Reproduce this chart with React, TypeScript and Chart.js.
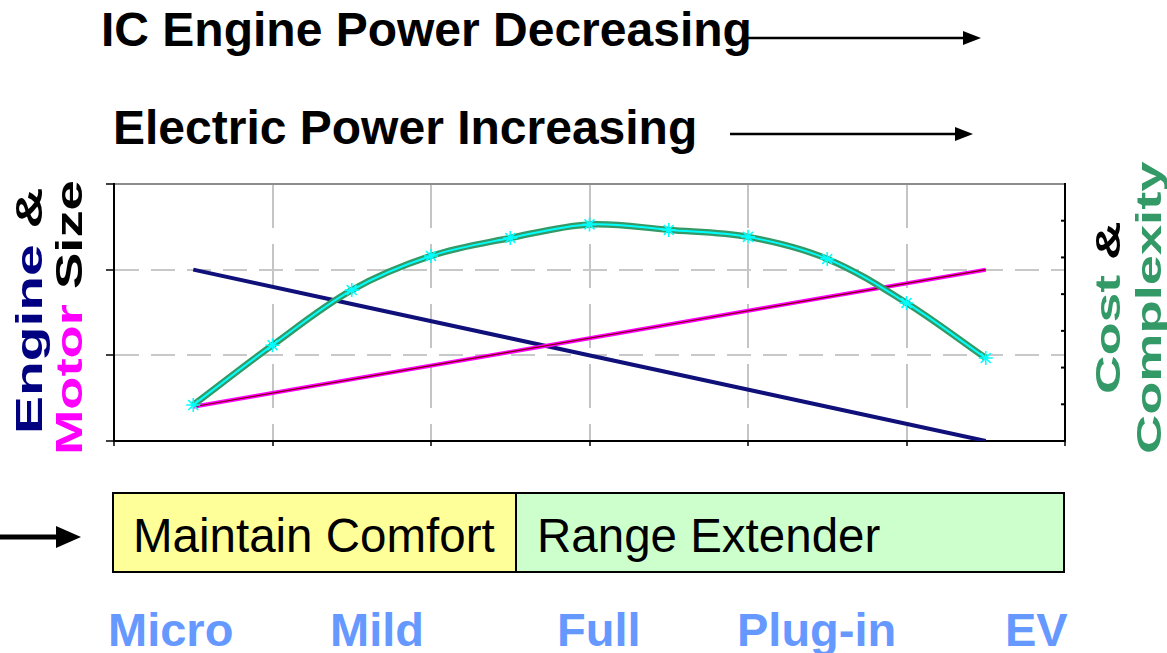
import React, { useEffect, useRef } from "react";
import { Chart, registerables } from "chart.js";

Chart.register(...registerables);

// ---- data ----
const engineX = [0.5, 1.5, 2.5, 3.5, 4.5, 5.5];
const engineSize = [2.0, 1.6, 1.2, 0.8, 0.4, 0.0];
const motorX = [0.5, 1.5, 2.5, 3.5, 4.5, 5.5];
const motorSize = [0.4, 0.72, 1.04, 1.36, 1.68, 2.0];
const costX = [0.5, 1, 1.5, 2, 2.5, 3, 3.5, 4, 4.5, 5, 5.5];
const costComplexity = [0.98, 2.61, 4.11, 5.04, 5.53, 5.9, 5.75, 5.56, 4.96, 3.76, 2.26];
const hybridTypes = ["Micro", "Mild", "Full", "Plug-in", "EV"];
const strategies = ["Maintain Comfort", "Range Extender"];
const headlines = ["IC Engine Power Decreasing", "Electric Power Increasing"];

// ---- layout / style ----
const FONT = '"Liberation Sans", Arial, Helvetica, sans-serif';
const typeLeft = [108, 330, 557, 737, 1005];

const pts = (xs: number[], ys: number[]) => xs.map((x, i) => ({ x, y: ys[i] }));

function RotLabel(props: { left: number; top: number; size: number; k: number; parts: { text: string; color: string }[] }) {
  const { left, top, size, k, parts } = props;
  return (
    <div
      style={{
        position: "absolute",
        left,
        top,
        fontFamily: FONT,
        fontWeight: 700,
        fontSize: size,
        lineHeight: 1,
        whiteSpace: "pre",
        transformOrigin: "0 0",
        transform: `rotate(-90deg) scaleX(${k})`,
      }}
    >
      {parts.map((p, i) => (
        <span key={i} style={{ color: p.color }}>
          {p.text}
        </span>
      ))}
    </div>
  );
}

export default function App() {
  const ref = useRef<HTMLCanvasElement | null>(null);

  useEffect(() => {
    if (!ref.current) return;
    const costPts = pts(costX, costComplexity);
    const motorPts = pts(motorX, motorSize);
    const enginePts = pts(engineX, engineSize);

    const rightTicks = {
      id: "rightTicks",
      afterDraw(chart: any) {
        const s = chart.scales.y2;
        const ctx = chart.ctx;
        const r = chart.chartArea.right;
        ctx.save();
        ctx.strokeStyle = "#000";
        ctx.lineWidth = 2;
        s.ticks.forEach((t: any) => {
          if (t.value <= 0 || t.value >= 7) return;
          const y = s.getPixelForValue(t.value);
          ctx.beginPath();
          ctx.moveTo(r - 4, y);
          ctx.lineTo(r, y);
          ctx.stroke();
        });
        ctx.restore();
      },
    };

    const chart = new Chart(ref.current, {
      type: "line",
      data: {
        datasets: [
          {
            label: "Cost & Complexity",
            data: costPts,
            yAxisID: "y2",
            borderColor: "#00ffff",
            borderWidth: 2,
            pointStyle: "star",
            pointRadius: 7,
            pointBorderColor: "#00ffff",
            pointBackgroundColor: "#00ffff",
            pointBorderWidth: 1.6,
            tension: 0.35,
            fill: false,
            order: 0,
          } as any,
          {
            label: "Cost outline",
            data: costPts,
            yAxisID: "y2",
            borderColor: "#339966",
            borderWidth: 6.5,
            pointRadius: 0,
            tension: 0.35,
            fill: false,
            order: 1,
          },
          {
            label: "Motor Size",
            data: motorPts,
            yAxisID: "y",
            borderColor: "#800000",
            borderWidth: 1.2,
            pointRadius: 0,
            tension: 0,
            fill: false,
            order: 2,
          },
          {
            label: "Motor outline",
            data: motorPts,
            yAxisID: "y",
            borderColor: "#ff00ff",
            borderWidth: 4,
            pointRadius: 0,
            tension: 0,
            fill: false,
            order: 3,
          },
          {
            label: "Engine Size",
            data: enginePts,
            yAxisID: "y",
            borderColor: "#10107a",
            borderWidth: 4,
            pointRadius: 0,
            tension: 0,
            fill: false,
            order: 4,
          },
        ],
      },
      options: {
        animation: false,
        responsive: false,
        maintainAspectRatio: false,
        layout: { padding: { left: 106, right: 102, top: 14, bottom: 14 } },
        plugins: {
          legend: { display: false },
          tooltip: { enabled: false },
          title: { display: false },
        },
        scales: {
          x: {
            type: "linear",
            min: 0,
            max: 6,
            ticks: { display: false, stepSize: 1 },
            grid: {
              color: (c: any) =>
                c.tick && c.tick.value > 0 && c.tick.value < 6 ? "#c4c4c4" : "rgba(0,0,0,0)",
              lineWidth: 2,
              drawTicks: true,
              tickLength: 5,
              tickColor: "#000",
              tickWidth: 1.5,
            } as any,
            border: {
              display: true,
              color: "#000",
              width: 2,
              dash: (c: any) => (c.tick ? [44, 16] : []),
            } as any,
            afterFit: (s: any) => {
              s.height = 5;
            },
          },
          y: {
            type: "linear",
            position: "left",
            min: 0,
            max: 3,
            ticks: { display: false, stepSize: 1 },
            grid: {
              color: (c: any) => {
                const v = c.tick ? c.tick.value : 0;
                if (v === 3) return "#8c8c8c";
                if (v === 0) return "rgba(0,0,0,0)";
                return "#c8c8c8";
              },
              lineWidth: 2,
              drawTicks: true,
              tickLength: 8,
              tickColor: "#000",
              tickWidth: 1.5,
            } as any,
            border: {
              display: true,
              color: "#000",
              width: 2,
              dash: (c: any) => (c.tick && c.tick.value !== 3 ? [24, 12] : []),
            } as any,
            afterFit: (s: any) => {
              s.width = 8;
            },
          },
          y2: {
            type: "linear",
            position: "right",
            min: 0,
            max: 7,
            ticks: { display: false, stepSize: 1 },
            grid: { display: false, drawOnChartArea: false, drawTicks: false },
            border: { display: true, color: "#000", width: 2 },
            afterFit: (s: any) => {
              s.width = 0;
            },
          },
        },
      },
      plugins: [rightTicks],
    });
    return () => chart.destroy();
  }, []);

  return (
    <div
      style={{
        position: "absolute",
        left: 0,
        top: 0,
        width: 1167,
        height: 653,
        background: "#fff",
        overflow: "hidden",
        fontFamily: FONT,
      }}
    >
      <div style={{ position: "absolute", left: 101, top: 6, fontSize: 48, fontWeight: 700, lineHeight: 1, whiteSpace: "nowrap", color: "#000" }}>
        {headlines[0]}
      </div>
      <div style={{ position: "absolute", left: 113, top: 104, fontSize: 48, fontWeight: 700, lineHeight: 1, whiteSpace: "nowrap", color: "#000" }}>
        {headlines[1]}
      </div>

      <canvas ref={ref} width={1167} height={290} style={{ position: "absolute", left: 0, top: 170, width: 1167, height: 290 }} />

      <RotLabel left={11.5} top={434} size={36} k={1.58} parts={[{ text: "Engine", color: "#000080" }, { text: " &", color: "#000" }]} />
      <RotLabel left={51.5} top={455} size={36} k={1.51} parts={[{ text: "Motor", color: "#ff00ff" }, { text: " Size", color: "#000" }]} />
      <RotLabel left={1090} top={394} size={35} k={1.53} parts={[{ text: "Cost", color: "#339966" }, { text: " &", color: "#000" }]} />
      <RotLabel left={1131} top={454} size={35} k={1.55} parts={[{ text: "Complexity", color: "#339966" }]} />

      <div style={{ position: "absolute", left: 112, top: 492, width: 405, height: 81, boxSizing: "border-box", border: "2px solid #000", background: "#ffff99" }} />
      <div style={{ position: "absolute", left: 515, top: 492, width: 550, height: 81, boxSizing: "border-box", border: "2px solid #000", background: "#ccffcc" }} />
      <div style={{ position: "absolute", left: 133, top: 512, fontSize: 47.5, lineHeight: 1, whiteSpace: "nowrap", color: "#000" }}>{strategies[0]}</div>
      <div style={{ position: "absolute", left: 537, top: 512, fontSize: 47.5, lineHeight: 1, whiteSpace: "nowrap", color: "#000" }}>{strategies[1]}</div>

      {hybridTypes.map((t, i) => (
        <div key={t} style={{ position: "absolute", left: typeLeft[i], top: 606, fontSize: 47, fontWeight: 700, lineHeight: 1, whiteSpace: "nowrap", color: "#6699ff" }}>
          {t}
        </div>
      ))}

      <svg width={1167} height={653} style={{ position: "absolute", left: 0, top: 0, pointerEvents: "none" }}>
        <line x1={743} y1={38} x2={966} y2={38} stroke="#000" strokeWidth={2.6} />
        <polygon points="963,31 981,38 963,45" fill="#000" />
        <line x1={730} y1={134} x2={958} y2={134} stroke="#000" strokeWidth={2.6} />
        <polygon points="955,127 973,134 955,141" fill="#000" />
        <line x1={0} y1={537} x2={60} y2={537} stroke="#000" strokeWidth={5} />
        <polygon points="56,526 81,537 56,548" fill="#000" />
      </svg>
    </div>
  );
}
